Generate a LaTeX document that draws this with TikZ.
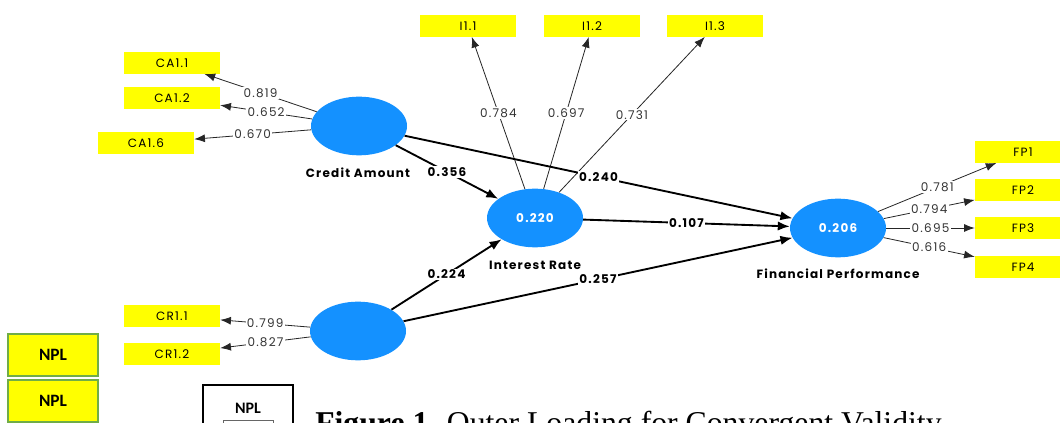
\documentclass[tikz,border=0pt]{standalone}
\usepackage{fontspec}
\setmainfont{Liberation Serif}
\newfontfamily\plsfont[LetterSpace=10]{Poppins}
\newfontfamily\calfont{Carlito}
\usetikzlibrary{arrows.meta,shapes.geometric}
\definecolor{lvblue}{RGB}{20,145,255}
\definecolor{indyellow}{RGB}{255,255,0}
\definecolor{nplgreen}{RGB}{112,173,71}

\begin{document}
\begin{tikzpicture}[x=0.75pt,y=-0.75pt,
  latent/.style={ellipse,fill=lvblue,minimum width=72pt,minimum height=44pt,inner sep=0pt,
    text=white,font=\plsfont\bfseries\fontsize{9}{10}\selectfont},
  indicator/.style={rectangle,fill=indyellow,minimum width=72pt,minimum height=16pt,inner sep=0pt,
    font=\plsfont\fontsize{9}{10}\selectfont},
  lvname/.style={font=\plsfont\bfseries\fontsize{9}{10}\selectfont},
  loading/.style={draw=black!85,line width=0.6pt,-{Latex[length=8pt,width=6pt]}},
  structural/.style={draw=black,line width=1.4pt,-{Latex[length=9pt,width=7pt]}},
  ldlabel/.style={fill=white,inner sep=1pt,text=black!80,font=\plsfont\fontsize{9}{10}\selectfont},
  pclabel/.style={fill=white,inner sep=1pt,font=\plsfont\bfseries\fontsize{9}{10}\selectfont},
  nplbox/.style={draw=nplgreen,line width=1.5pt,fill=indyellow,minimum width=67.5pt,minimum height=31.5pt,
    inner sep=0pt,font=\calfont\bfseries\fontsize{13}{14}\selectfont},
]
  \clip (0,0) rectangle (1060,423);
  \fill[white] (0,0) rectangle (1060,423);

  % latent variables
  \node[latent] (CA) at (359,126) {};
  \node[latent] (IR) at (535,218) {0.220};
  \node[latent] (FP) at (838,228) {0.206};
  \node[latent] (CR) at (358,331) {};
  \node[lvname] (CAname) at (358,173) {Credit Amount};
  \node[lvname] (IRname) at (535,265) {Interest Rate};
  \node[lvname] (FPname) at (838,274) {Financial Performance};

  % indicators
  \node[indicator] (CA11) at (172,63) {CA1.1};
  \node[indicator] (CA12) at (172,98) {CA1.2};
  \node[indicator] (CA16) at (146,143) {CA1.6};
  \node[indicator] (I11) at (468,26) {I1.1};
  \node[indicator] (I12) at (592,26) {I1.2};
  \node[indicator] (I13) at (715,26) {I1.3};
  \node[indicator] (FP1) at (1023,152) {FP1};
  \node[indicator] (FP2) at (1023,190) {FP2};
  \node[indicator] (FP3) at (1023,228) {FP3};
  \node[indicator] (FP4) at (1023,267) {FP4};
  \node[indicator] (CR11) at (172,316) {CR1.1};
  \node[indicator] (CR12) at (172,354) {CR1.2};

  % outer loadings
  \draw[loading] (CA) -- node[ldlabel] {0.819} (CA11);
  \draw[loading] (CA) -- node[ldlabel] {0.652} (CA12);
  \draw[loading] (CA) -- node[ldlabel] {0.670} (CA16);
  \draw[loading] (IR) -- node[ldlabel] {0.784} (I11);
  \draw[loading] (IR) -- node[ldlabel] {0.697} (I12);
  \draw[loading] (IR) -- node[ldlabel] {0.731} (I13);
  \draw[loading] (FP) -- node[ldlabel] {0.781} (FP1);
  \draw[loading] (FP) -- node[ldlabel] {0.794} (FP2);
  \draw[loading] (FP) -- node[ldlabel] {0.695} (FP3);
  \draw[loading] (FP) -- node[ldlabel] {0.616} (FP4);
  \draw[loading] (CR) -- node[ldlabel] {0.799} (CR11);
  \draw[loading] (CR) -- node[ldlabel] {0.827} (CR12);

  % path coefficients
  \draw[structural] (CA) -- node[pclabel] {0.356} (IR);
  \draw[structural] (CA) -- node[pclabel] {0.240} (FP);
  \draw[structural] (IR) -- node[pclabel] {0.107} (FP);
  \draw[structural] (CR) -- node[pclabel] {0.224} (IR);
  \draw[structural] (CR) -- node[pclabel] {0.257} (FP);

  % NPL boxes and caption
  \node[nplbox] (npla) at (53,355) {NPL};
  \node[nplbox] (nplb) at (53,401) {NPL};
  \draw[line width=0.8pt] (203,440) -- (203,385) -- (293,385) -- (293,440);
  \node[font=\calfont\bfseries\fontsize{12}{14}\selectfont] (nplc) at (248,408) {NPL};
  \draw[black!60,line width=0.5pt] (223,440) -- (223,420) -- (273,420) -- (273,440);
  \node[anchor=base west,inner sep=0pt,font=\fontsize{23.8}{26}\selectfont] (caption) at (315,434)
    {\textbf{Figure 1.} Outer Loading for Convergent Validity};
\end{tikzpicture}
\end{document}
